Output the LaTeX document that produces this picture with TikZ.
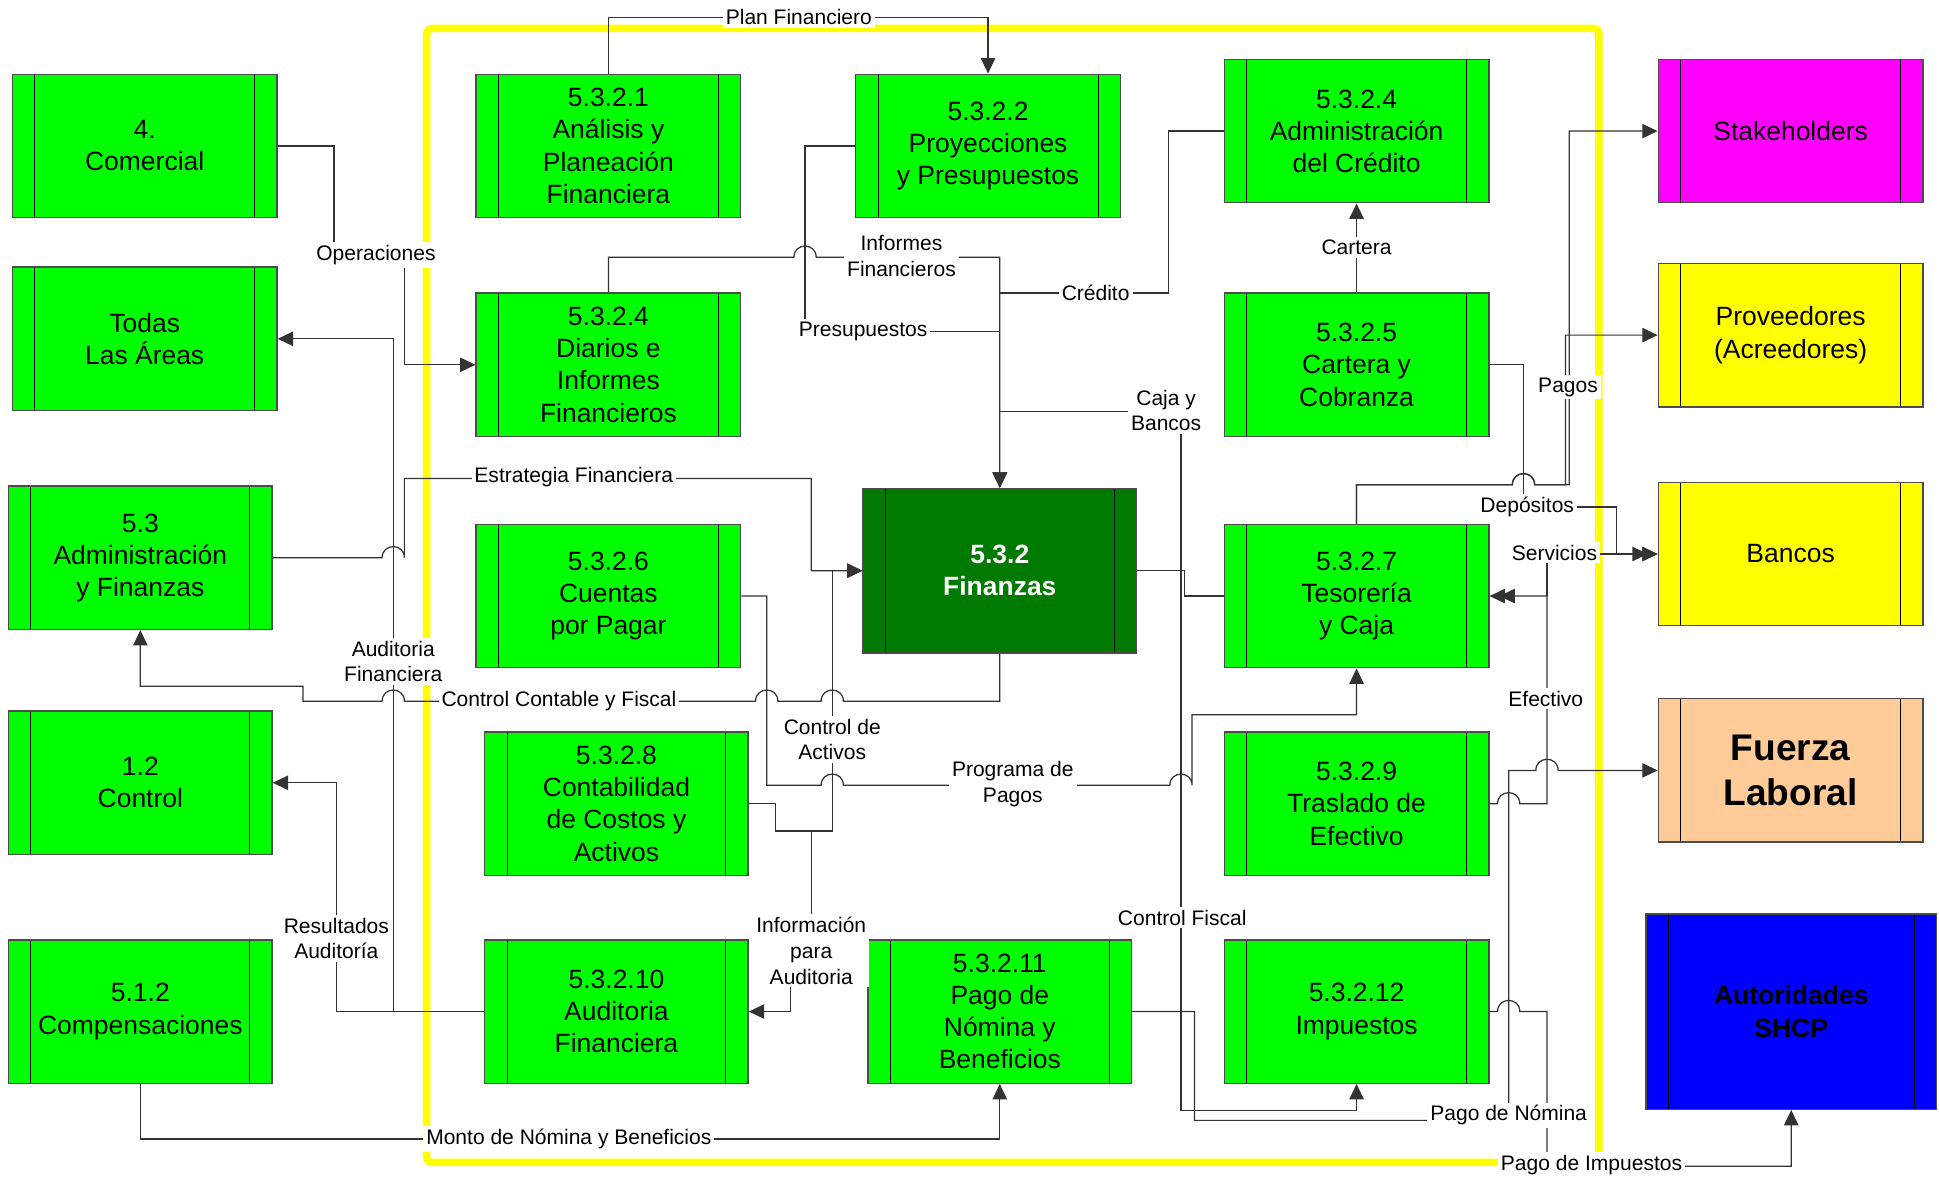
\documentclass[tikz,border=0pt]{standalone}
\usepackage{fontspec}
\setmainfont{Liberation Sans}
\usetikzlibrary{arrows.meta}
\definecolor{bgreen}{HTML}{00FF00}
\definecolor{dgreen}{HTML}{007A00}
\definecolor{magen}{HTML}{FF00FF}
\definecolor{yel}{HTML}{FFFF00}
\definecolor{peach}{HTML}{FFCC99}
\definecolor{blu}{HTML}{0000FF}
\newcommand\bxfont{\fontsize{10.7}{13}\selectfont}
\newcommand\lbfont{\fontsize{8.5}{10.4}\selectfont}
\begin{document}
\begin{tikzpicture}[x=0.5pt,y=-0.5pt,
 box/.style={draw=black!70, line width=0.55pt, fill=bgreen, minimum width=107pt, minimum height=58pt, inner sep=0pt, align=center, font=\bxfont, text=black,
   path picture={\draw[black, line width=0.4pt] ([xshift=9pt]path picture bounding box.north west) -- ([xshift=9pt]path picture bounding box.south west) ([xshift=-9pt]path picture bounding box.north east) -- ([xshift=-9pt]path picture bounding box.south east);}},
 conn/.style={draw=black!80, line width=0.5pt},
 arr/.style={-{Triangle[length=6.2pt,width=5.8pt]}},
 darr/.style={-{Triangle[length=6.2pt,width=5.8pt,sep=-2.2pt]Triangle[length=6.2pt,width=5.8pt]}},
 lbl/.style={fill=white, inner sep=1.2pt, align=center, font=\lbfont, text=black}]
\useasboundingbox (0,0) rectangle (1568,952);
% frame
\draw[yel, line width=3pt, rounded corners=2pt] (345,23) rectangle (1293,940);
% nodes
\node[box] (com) at (117,118) {4.\\Comercial};
\node[box] (todas) at (117,274) {Todas\\Las Áreas};
\node[box,minimum width=106.5pt] (adm) at (113.5,451) {5.3\\Administración\\y Finanzas};
\node[box,minimum width=106.5pt] (ctl) at (113.5,633) {1.2\\Control};
\node[box,minimum width=106.5pt] (cmp) at (113.5,818) {5.1.2\\Compensaciones};
\node[box] (apf) at (492,118) {5.3.2.1\\Análisis y\\Planeación\\Financiera};
\node[box] (dif) at (492,295) {5.3.2.4\\Diarios e\\Informes\\Financieros};
\node[box] (cxp) at (492,482) {5.3.2.6\\Cuentas\\por Pagar};
\node[box,minimum width=106.5pt] (cca) at (498.5,650) {5.3.2.8\\Contabilidad\\de Costos y\\Activos};
\node[box,minimum width=106.5pt] (aud) at (498.5,818) {5.3.2.10\\Auditoria\\Financiera};
\node[box] (pyp) at (799,118) {5.3.2.2\\Proyecciones\\y Presupuestos};
\node[box,fill=dgreen,minimum width=110.5pt,minimum height=66.5pt,text=white,font=\bxfont\bfseries] (fin) at (808.5,461.5) {5.3.2\\Finanzas};
\node[box,minimum width=106.5pt] (pnb) at (808.5,818) {5.3.2.11\\Pago de\\Nómina y\\Beneficios};
\node[box] (adc) at (1097,106) {5.3.2.4\\Administración\\del Crédito};
\node[box] (cyc) at (1097,295) {5.3.2.5\\Cartera y\\Cobranza};
\node[box] (tyc) at (1097,482) {5.3.2.7\\Tesorería\\y Caja};
\node[box] (tde) at (1097,650) {5.3.2.9\\Traslado de\\Efectivo};
\node[box] (imp) at (1097,818) {5.3.2.12\\Impuestos};
\node[box,fill=magen] (stk) at (1448,106) {Stakeholders};
\node[box,fill=yel] (prv) at (1448,271) {Proveedores\\(Acreedores)};
\node[box,fill=yel] (bco) at (1448,448) {Bancos};
\node[box,fill=peach,font=\fontsize{15}{18}\selectfont\bfseries] (fzl) at (1448,623) {Fuerza\\Laboral};
\node[box,fill=blu,minimum width=117.5pt,minimum height=79pt,font=\bxfont\bfseries] (shcp) at (1448.5,818) {Autoridades\\SHCP};
% connectors
\draw[conn,arr] (apf.north) |- (700,14) -| (pyp.north);
\draw[conn,arr] (com.east) -| (270,206) -- (327,206) |- (dif.west);
\draw[conn,arr] (aud.west) -- (318,818) |- (todas.east);
\draw[conn,arr] (aud.west) -| (272,633) -- (ctl.east);
\draw[conn,arr] (adm.east) -- (309,451) .. controls (309,439) and (327,439) .. (327,451) -- (327,387) -| (656,461.5) -- (fin.west);
\draw[conn,arr] (fin.south) |- (682,567) .. controls (682,555) and (664,555) .. (664,567) -- (629,567) .. controls (629,555) and (611,555) .. (611,567) -- (327,567) .. controls (327,555) and (309,555) .. (309,567) -- (245,567) -- (245,555) -| (adm.south);
\draw[conn,arr] (cxp.east) -| (620,635) -- (664,635) .. controls (664,623) and (682,623) .. (682,635) -- (946,635) .. controls (946,623) and (964,623) .. (964,635) |- (1097,578) -- (tyc.south);
\draw[conn,arr] (cca.east) -| (627,672) -| (673,461.5) -- (fin.west);
\draw[conn,arr] (cca.east) -| (627,672) -| (656,769) -| (639,818) -- (aud.east);
\draw[conn,arr] (dif.north) |- (642,208) .. controls (642,196) and (660,196) .. (660,208) -| (fin.north);
\draw[conn,arr] (pyp.west) -| (651,268) -| (fin.north);
\draw[conn,arr] (adc.west) -| (945,237) -| (fin.north);
\coordinate (jcb) at (808.5,333);
\draw[conn,arr] (jcb) -| (955,898) -| (imp.south);
\draw[conn] (fin.east) -| (958,482) -- (tyc.west);
\draw[conn,arr] (cyc.north) -- (adc.south);
\draw[conn,arr] (cyc.east) -| (1232,410) -| (1307,448) -- (bco.west);
\draw[conn,arr] (tyc.north) |- (1223,392) .. controls (1223,380) and (1241,380) .. (1241,392) -| (1269,106) -- (stk.west);
\draw[conn,arr] (tyc.north) |- (1223,392) .. controls (1223,380) and (1241,380) .. (1241,392) -| (1266,271) -- (prv.west);
\draw[conn,darr] (tde.east) -- (1211,650) .. controls (1211,638) and (1229,638) .. (1229,650) -| (1251,482) -- (tyc.east);
\coordinate (jsv) at (1251,482);
\draw[conn,darr] (jsv) |- (bco.west);
\draw[conn,arr] (pnb.east) -| (966,906) -| (1220,623) -- (1242,623) .. controls (1242,611) and (1260,611) .. (1260,623) -- (fzl.west);
\draw[conn,arr] (imp.east) -- (1211,818) .. controls (1211,806) and (1229,806) .. (1229,818) -| (1251,943) -| (shcp.south);
\draw[conn,arr] (cmp.south) |- (700,921) -| (pnb.south);
% labels
\node[lbl] (l1) at (646,14) {Plan Financiero};
\node[lbl] (l2) at (304,206) {Operaciones};
\node[lbl] (l3) at (729,207) {Informes\\Financieros};
\node[lbl] (l4) at (886,237) {Crédito};
\node[lbl] (l5) at (698,268) {Presupuestos};
\node[lbl] (l6) at (1097,200) {Cartera};
\node[lbl] (l7) at (943,332) {Caja y\\Bancos};
\node[lbl] (l8) at (1268,313) {Pagos};
\node[lbl] (l9) at (464,386) {Estrategia Financiera};
\node[lbl] (l10) at (1235,410) {Depósitos};
\node[lbl] (l11) at (1257,447) {Servicios};
\node[lbl] (l12) at (318,535) {Auditoria\\Financiera};
\node[lbl] (l13) at (452,567) {Control Contable y Fiscal};
\node[lbl] (l14) at (1250,565) {Efectivo};
\node[lbl] (l15) at (673,598) {Control de\\Activos};
\node[lbl] (l16) at (819,634) {Programa de\\Pagos};
\node[lbl] (l17) at (272,759) {Resultados\\Auditoría};
\node[lbl] (l18) at (656,769) {Información\\para\\Auditoria};
\node[lbl] (l19) at (956,742) {Control Fiscal};
\node[lbl] (l20) at (1220,902) {Pago de Nómina};
\node[lbl] (l21) at (460,921) {Monto de Nómina y Beneficios};
\node[lbl] (l22) at (1287,942) {Pago de Impuestos};
\end{tikzpicture}
\end{document}
